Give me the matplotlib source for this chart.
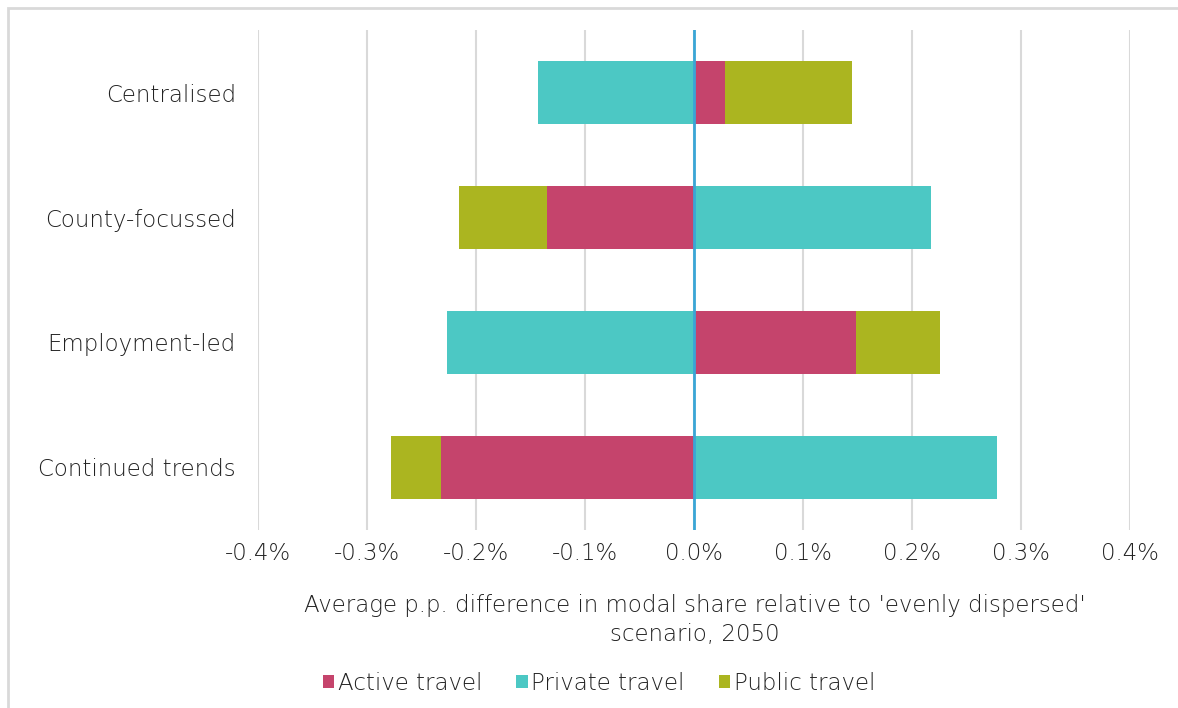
import numpy as np
import matplotlib.pyplot as plt
from matplotlib.ticker import FuncFormatter
from matplotlib.patches import Rectangle

plt.rcParams['font.family'] = ['DejaVu Sans']

# data (percentage points)
scenarios = ['Continued trends', 'Employment-led', 'County-focussed', 'Centralised']
active  = [-0.232, 0.149, -0.135, 0.028]
private = [0.278, -0.227, 0.217, -0.143]
public  = [-0.046, 0.077, -0.081, 0.117]

series = [('Active travel', active, '#c5446c'),
          ('Private travel', private, '#4cc8c4'),
          ('Public travel', public, '#abb520')]

txt = '#222222'
fs = 16.5

fig = plt.figure(figsize=(11.78, 7.08), dpi=100)
ax = fig.add_axes([258/1178, 1-530/708, (1130-258)/1178, 500/708])

y = np.arange(len(scenarios))
pos_base = np.zeros(len(scenarios))
neg_base = np.zeros(len(scenarios))
for name, vals, col in series:
    vals = np.array(vals)
    base = np.where(vals >= 0, pos_base, neg_base)
    ax.barh(y, vals, left=base, height=0.5, color=col, label=name, zorder=3)
    pos_base += np.where(vals >= 0, vals, 0)
    neg_base += np.where(vals < 0, vals, 0)

ax.set_xlim(-0.4, 0.4)
ax.set_ylim(-0.5, 3.5)
ticks = np.round(np.linspace(-0.4, 0.4, 9), 1) + 0.0
ax.set_xticks(ticks)
ax.xaxis.set_major_formatter(FuncFormatter(lambda v, p: f'{v + 0.0:.1f}%'))
ax.set_yticks(y)
ax.set_yticklabels(scenarios)
ax.tick_params(axis='both', length=0, labelsize=fs, colors=txt)
ax.tick_params(axis='x', pad=9)
ax.tick_params(axis='y', pad=16)
for lab in ax.get_xticklabels() + ax.get_yticklabels():
    lab.set_fontweight('light')

ax.grid(axis='x', color='#d9d9d9', lw=1.5, zorder=0)
ax.axvline(0, color='#3aa6d6', lw=2, zorder=4)
for s in ax.spines.values():
    s.set_visible(False)

fig.text(695/1178, 1 - 620/708,
         "Average p.p. difference in modal share relative to 'evenly dispersed'\nscenario, 2050",
         ha='center', va='center', fontsize=fs, color=txt,
         fontweight='light', linespacing=1.3)

fig.legend(loc='center', bbox_to_anchor=(599/1178, 1 - 683/708), ncol=3,
           frameon=False, handlelength=0.5, handleheight=0.5,
           handletextpad=0.15, columnspacing=1.5,
           prop={'weight': 'light', 'size': fs})
for t in fig.legends[0].get_texts():
    t.set_color(txt)

fig.patches.append(Rectangle((8/1178, -0.05), 1.1, 1 - 8/708 + 0.05,
                             transform=fig.transFigure, fill=False,
                             edgecolor='#d9d9d9', lw=2))

fig.savefig('out.png', dpi=100)
